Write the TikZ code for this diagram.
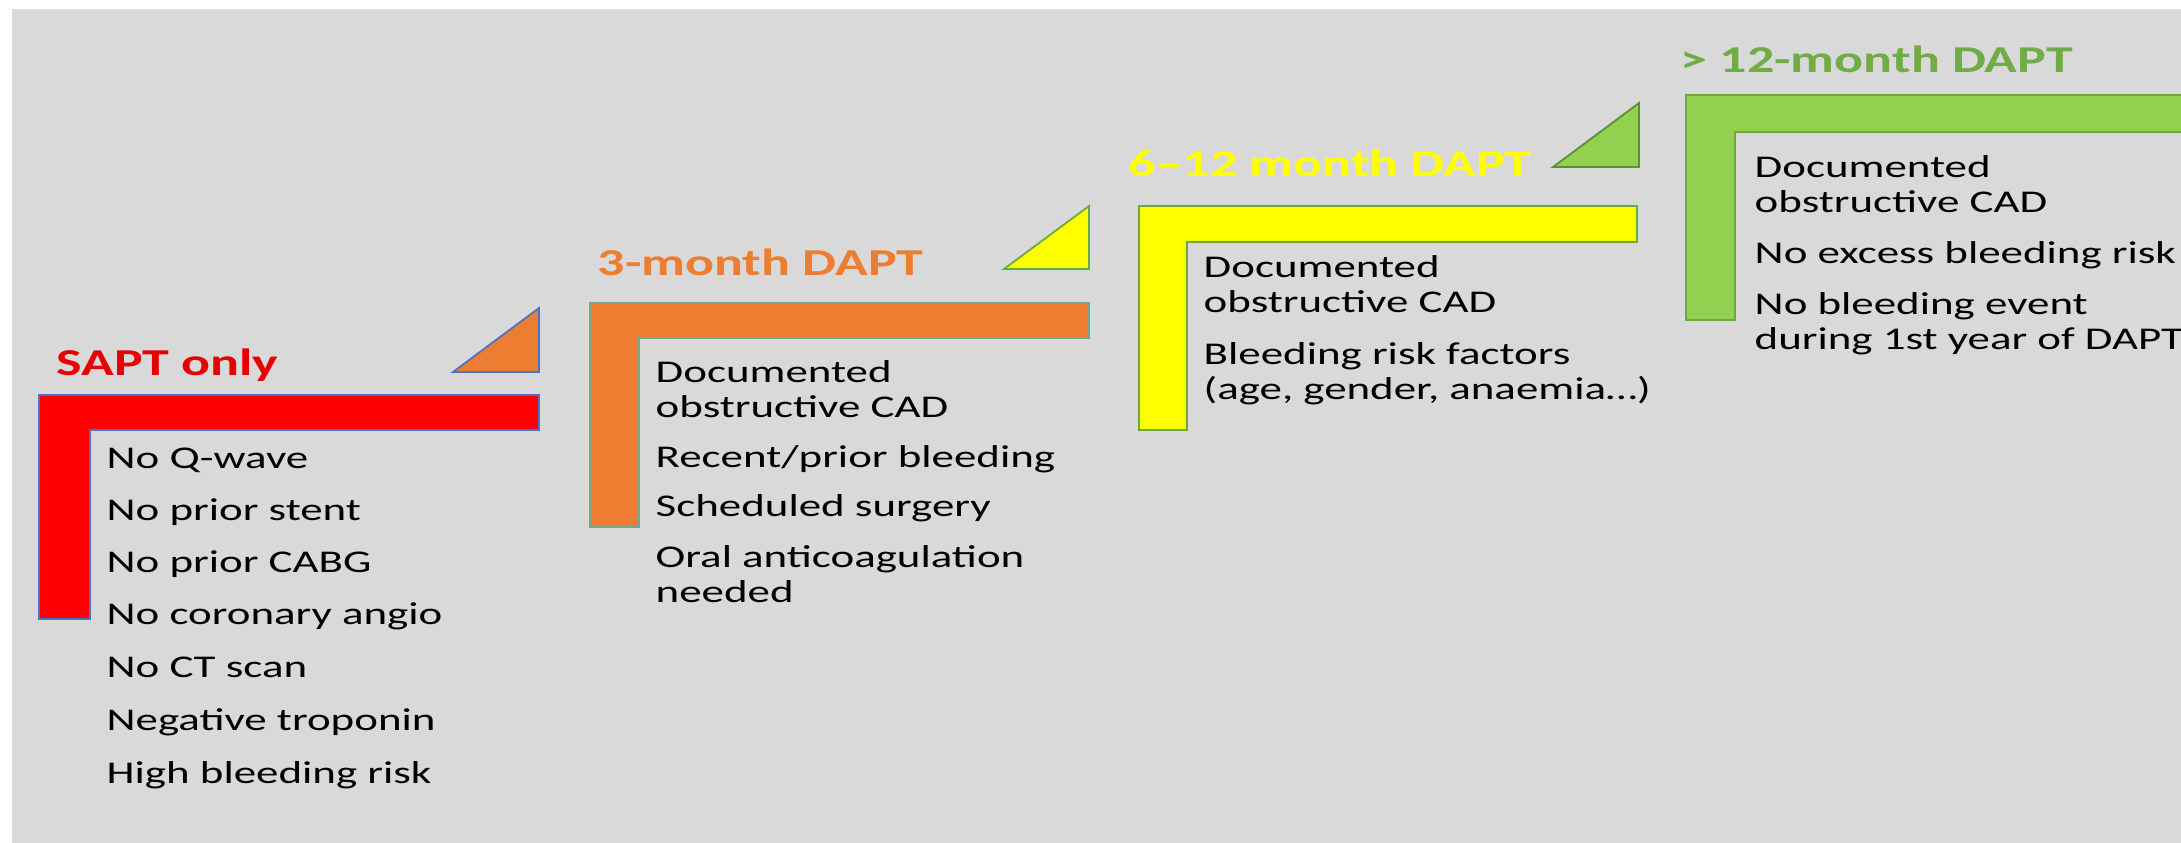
\documentclass[tikz,border=0pt]{standalone}
\usepackage{fontspec}
\setmainfont{Carlito}[FakeStretch=1.42]
\usetikzlibrary{positioning}

\definecolor{panel}{HTML}{D9D9D9}
\definecolor{saptred}{HTML}{FF0000}
\definecolor{saptlabel}{HTML}{E60000}
\definecolor{threeorange}{HTML}{ED7D31}
\definecolor{sixyellow}{HTML}{FFFF00}
\definecolor{longgreen}{HTML}{92D050}
\definecolor{longlabel}{HTML}{70AD47}
\definecolor{edgeblue}{HTML}{4F72C0}
\definecolor{edgeteal}{HTML}{6FA88A}
\definecolor{edgegreen}{HTML}{6AA843}

\tikzset{
  elbow/.style={line width=0.5pt, line join=miter},
  ramp/.style={line width=0.5pt, line join=miter},
  head/.style={anchor=base west, inner sep=0pt, font=\fontsize{10.8}{12}\selectfont\bfseries},
  item/.style={anchor=base west, inner sep=0pt, align=left, font=\fontsize{9}{10.1}\selectfont},
}

\begin{document}
\begin{tikzpicture}[x=0.01cm, y=-0.01cm]
        \useasboundingbox (0,0) rectangle (2181,843);
        \fill[panel] (12,9) rectangle (2181,843);

        % the four elbows, one step up each
        \draw[elbow, fill=saptred, draw=edgeblue] (39,395) -- (539,395) -- (539,430) -- (90,430) -- (90,619) -- (39,619) -- cycle;
        \draw[elbow, fill=threeorange, draw=edgeteal] (590,303) -- (1089,303) -- (1089,338) -- (639,338) -- (639,527) -- (590,527) -- cycle;
        \draw[elbow, fill=sixyellow, draw=edgegreen] (1139,206) -- (1637,206) -- (1637,242) -- (1187,242) -- (1187,430) -- (1139,430) -- cycle;
        \draw[elbow, fill=longgreen, draw=edgegreen] (1686,95) -- (2190,95) -- (2190,132) -- (1735,132) -- (1735,320) -- (1686,320) -- cycle;

        % small ramps between the steps
        \draw[ramp, fill=threeorange, draw=edgeblue] (453,372) -- (539,372) -- (539,308) -- cycle;
        \draw[ramp, fill=sixyellow, draw=edgegreen] (1004,269) -- (1089,269) -- (1089,206) -- cycle;
        \draw[ramp, fill=longgreen, draw=edgegreen!85!black] (1553,167) -- (1639,167) -- (1639,103) -- cycle;

        % headings
        \node[head, text=saptlabel] (sapt) at (56,376) {SAPT only};
        \node[head, text=threeorange] (three) at (597,276) {3-month DAPT};
        \node[head, text=sixyellow] (six) at (1128,177) {6–12 month DAPT};
        \node[head, text=longlabel] (long) at (1680,73) {> 12-month DAPT};

        % criteria under each heading (two-line nodes sit on their last line)
        \foreach \y/\txt [count=\i] in {469/No Q-wave, 521/No prior stent, 573/No prior CABG,
                625/No coronary angio, 678/No CT scan, 731/Negative troponin, 783/High bleeding risk}
        \node[item] (sapt-\i) at (106,\y) {\txt};

        \node[item] (three-1) at (655,418) {Documented\\obstructive CAD};
        \node[item] (three-2) at (655,468) {Recent/prior bleeding};
        \node[item] (three-3) at (655,517) {Scheduled surgery};
        \node[item] (three-4) at (655,603) {Oral anticoagulation\\needed};

        \node[item] (six-1) at (1203,313) {Documented\\obstructive CAD};
        \node[item] (six-2) at (1203,400) {Bleeding risk factors\\(age, gender, anaemia…)};

        \node[item] (long-1) at (1754,213) {Documented\\obstructive CAD};
        \node[item] (long-2) at (1754,264) {No excess bleeding risk};
        \node[item] (long-3) at (1754,350) {No bleeding event\\during 1st year of DAPT};
\end{tikzpicture}
\end{document}
